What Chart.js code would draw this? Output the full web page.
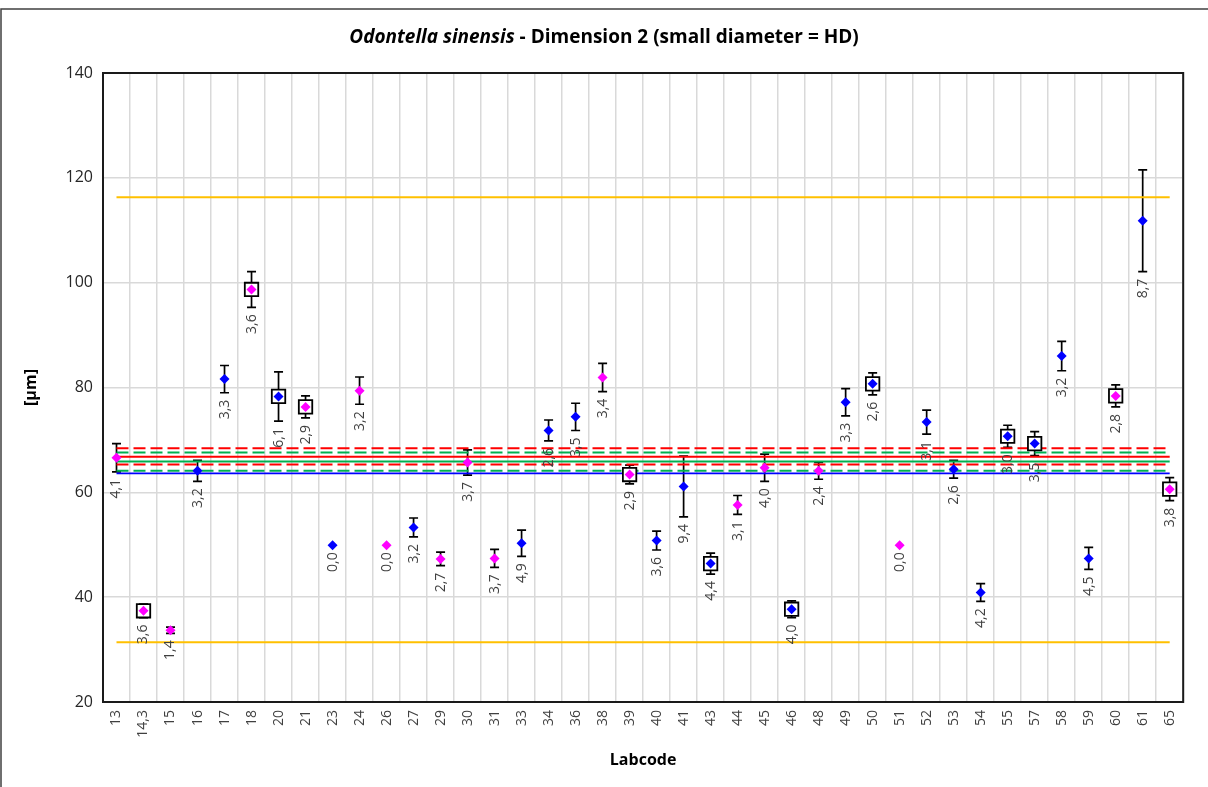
<!DOCTYPE html>
<html>
<head>
<meta charset="utf-8">
<script src="https://cdn.jsdelivr.net/npm/chart.js@4.4.1/dist/chart.umd.min.js"></script>
<style>
html, body { margin: 0; padding: 0; background: #fff; }
#wrap { width: 1208px; height: 787px; }
</style>
</head>
<body>
<div id="wrap"><canvas id="chart" width="1208" height="787"></canvas></div>
<script>
// lab codes on the x axis
var labcodes = ['13','14,3','15','16','17','18','20','21','23','24',
                '26','27','29','30','31','33','34','36','38','39',
                '40','41','43','44','45','46','48','49','50','51',
                '52','53','54','55','57','58','59','60','61','65'];

// mean per lab [µm]
var means = [66.6, 37.4, 33.7, 64.1, 81.6, 98.7, 78.3, 76.3, 49.9, 79.4,
             49.9, 53.3, 47.3, 65.7, 47.4, 50.3, 71.8, 74.4, 81.9, 63.4,
             50.8, 61.1, 46.4, 57.6, 64.7, 37.7, 64.1, 77.2, 80.7, 49.9,
             73.4, 64.4, 40.9, 70.7, 69.3, 86.0, 47.4, 78.4, 111.8, 60.6];

// error bar half width
var errs = [2.7, 1.3, 0.6, 2.0, 2.6, 3.4, 4.7, 2.1, 0, 2.6,
            0, 1.8, 1.3, 2.4, 1.7, 2.5, 2.0, 2.6, 2.7, 1.8,
            1.8, 5.8, 2.0, 1.8, 2.6, 1.6, 1.6, 2.6, 2.1, 0,
            2.3, 1.7, 1.7, 2.1, 2.3, 2.8, 2.1, 2.1, 9.7, 2.2];

// value written under each point
var sdLabels = ['4,1','3,6','1,4','3,2','3,3','3,6','6,1','2,9','0,0','3,2',
                '0,0','3,2','2,7','3,7','3,7','4,9','2,6','3,5','3,4','2,9',
                '3,6','9,4','4,4','3,1','4,0','4,0','2,4','3,3','2,6','0,0',
                '3,1','2,6','4,2','3,0','3,5','3,2','4,5','2,8','8,7','3,8'];

// point group (M / B)
var groups = ['M','M','M','B','B','M','B','M','B','M',
              'M','B','M','M','M','B','B','B','M','M',
              'B','B','B','M','M','B','M','B','B','M',
              'B','B','B','B','B','B','B','M','B','M'];

// labs marked with a square
var flagged = ['14,3','18','20','21','39','43','46','50','55','57','60','65'];

// horizontal reference levels
var outerLimits = [116.3, 31.4];
var redMean = 66.8;
var redLimits = [68.4, 65.3];
var greenMean = 65.9;
var greenLimits = [67.6, 64.1];
var blueMean = 63.6;

var groupColor = { M: '#ff00ff', B: '#0000ff' };
var FONT = '"Open Sans", "Liberation Sans", sans-serif';

var last = labcodes.length - 1;
function level(v, color, width, dash) {
  return {
    type: 'scatter', showLine: true, pointRadius: 0, borderColor: color,
    borderWidth: width, borderDash: dash || [], data: [{x: 0, y: v}, {x: last, y: v}]
  };
}

var pointData = means.map(function (v, i) { return {x: i, y: v}; });
var boxData = [];
labcodes.forEach(function (c, i) {
  if (flagged.indexOf(c) >= 0) boxData.push({x: i, y: means[i]});
});

var datasets = [
  { type: 'scatter', data: pointData, pointStyle: 'rectRot', pointRadius: 5,
    pointBackgroundColor: groups.map(function (g) { return groupColor[g]; }), pointBorderWidth: 0 },
  { type: 'scatter', data: boxData, pointStyle: 'rect', pointRadius: 9.5,
    pointBackgroundColor: '#ffffff', pointBorderColor: '#000000', pointBorderWidth: 1.8 },
  level(redLimits[0], '#ff0000', 2, [12, 5]),
  level(greenLimits[0], '#00b050', 2, [12, 5]),
  level(redMean, '#ff0000', 2),
  level(greenMean, '#00b050', 2),
  level(redLimits[1], '#ff0000', 2, [12, 5]),
  level(greenLimits[1], '#00b050', 2, [12, 5]),
  level(blueMean, '#0000ff', 1.8),
  level(outerLimits[0], '#ffc000', 1.8),
  level(outerLimits[1], '#ffc000', 1.8)
];

var extras = {
  id: 'extras',
  beforeDatasetsDraw: function (chart) {
    var ctx = chart.ctx, xs = chart.scales.x, ys = chart.scales.y;
    ctx.save();
    ctx.strokeStyle = '#000';
    ctx.lineWidth = 1.7;
    for (var i = 0; i < means.length; i++) {
      if (!errs[i]) continue;
      var x = xs.getPixelForValue(i);
      var yt = ys.getPixelForValue(means[i] + errs[i]);
      var yb = ys.getPixelForValue(means[i] - errs[i]);
      ctx.beginPath();
      ctx.moveTo(x, yt); ctx.lineTo(x, yb);
      ctx.moveTo(x - 4.5, yt); ctx.lineTo(x + 4.5, yt);
      ctx.moveTo(x - 4.5, yb); ctx.lineTo(x + 4.5, yb);
      ctx.stroke();
    }
    ctx.restore();
  },
  afterDatasetsDraw: function (chart) {
    var ctx = chart.ctx, xs = chart.scales.x, ys = chart.scales.y;
    ctx.save();
    ctx.fillStyle = '#404040';
    ctx.font = '14px ' + FONT;
    ctx.textAlign = 'right';
    ctx.textBaseline = 'middle';
    for (var i = 0; i < means.length; i++) {
      var x = xs.getPixelForValue(i);
      var yb = ys.getPixelForValue(means[i] - errs[i]) + 7;
      ctx.save();
      ctx.translate(x, yb);
      ctx.rotate(-Math.PI / 2);
      ctx.fillText(sdLabels[i], 0, 0);
      ctx.restore();
    }
    ctx.restore();
  },
  afterDraw: function (chart) {
    var ctx = chart.ctx, a = chart.chartArea;
    ctx.save();
    // outer chart frame (top and left edges visible in the picture)
    ctx.strokeStyle = '#404040';
    ctx.lineWidth = 1.5;
    ctx.beginPath();
    ctx.moveTo(1, chart.height);
    ctx.lineTo(1, 9);
    ctx.lineTo(chart.width, 9);
    ctx.stroke();

    // plot frame
    ctx.strokeStyle = '#1a1a1a';
    ctx.lineWidth = 2;
    ctx.strokeRect(a.left, a.top, a.right - a.left, a.bottom - a.top);

    // title, first part in italics
    var t1 = 'Odontella sinensis', t2 = ' - Dimension 2 (small diameter = HD)';
    ctx.fillStyle = '#000';
    ctx.textBaseline = 'middle';
    ctx.font = 'italic bold 19px ' + FONT;
    var w1 = ctx.measureText(t1).width;
    ctx.font = 'bold 19px ' + FONT;
    var w2 = ctx.measureText(t2).width;
    var sx = 604 - (w1 + w2) / 2;
    ctx.textAlign = 'left';
    ctx.font = 'italic bold 19px ' + FONT;
    ctx.fillText(t1, sx, 38);
    ctx.font = 'bold 19px ' + FONT;
    ctx.fillText(t2, sx + w1, 38);

    // axis titles
    ctx.textAlign = 'center';
    ctx.font = 'bold 16px ' + FONT;
    ctx.fillText('Labcode', (a.left + a.right) / 2, 760);
    ctx.save();
    ctx.translate(31, (a.top + a.bottom) / 2);
    ctx.rotate(-Math.PI / 2);
    ctx.fillText('[µm]', 0, 0);
    ctx.restore();
    ctx.restore();
  }
};

new Chart(document.getElementById('chart'), {
  type: 'scatter',
  data: { datasets: datasets },
  options: {
    responsive: false,
    animation: false,
    devicePixelRatio: 1,
    layout: { padding: { top: 73, right: 18, bottom: 0, left: 0 } },
    plugins: { legend: { display: false }, tooltip: { enabled: false }, title: { display: false } },
    scales: {
      x: {
        type: 'linear', min: -0.5, max: last + 0.5,
        afterBuildTicks: function (axis) {
          var t = [];
          for (var i = 0; i < labcodes.length; i++) { t.push({value: i - 0.5}); t.push({value: i}); }
          t.push({value: last + 0.5});
          axis.ticks = t;
        },
        afterFit: function (axis) { axis.height = 85; },
        grid: {
          color: function (c) { return (c.tick && Number.isInteger(c.tick.value)) ? 'rgba(0,0,0,0)' : '#d9d9d9'; },
          lineWidth: 1.5, drawTicks: false
        },
        border: { display: false },
        ticks: {
          autoSkip: false, minRotation: 90, maxRotation: 90, padding: 8,
          color: '#404040', font: { family: FONT, size: 14 },
          callback: function (v) { return Number.isInteger(v) ? labcodes[v] : ''; }
        }
      },
      y: {
        min: 20, max: 140,
        afterFit: function (axis) { axis.width = 103; },
        grid: { color: '#d9d9d9', lineWidth: 1.5, drawTicks: false },
        border: { display: false },
        ticks: { stepSize: 20, padding: 10, color: '#262626', font: { family: FONT, size: 16 } }
      }
    }
  },
  plugins: [extras]
});
</script>
</body>
</html>
